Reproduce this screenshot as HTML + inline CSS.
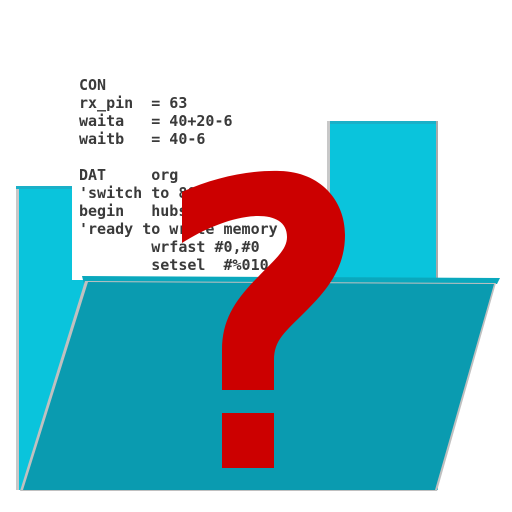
<!DOCTYPE html>
<html><head><style>
body{margin:0;width:512px;height:512px;background:#fff;overflow:hidden;position:relative}
pre{position:absolute;left:79px;top:76px;margin:0;font-family:"DejaVu Sans Mono","Liberation Mono",monospace;font-weight:bold;font-size:15px;line-height:18px;color:#3a3a3a}
svg{position:absolute;left:0;top:0}
</style></head><body>
<svg width="512" height="512">
<rect x="16" y="186" width="422" height="304" fill="#0ac4dc"/>
<rect x="16" y="186" width="3" height="304" fill="#c8c8c8"/>
<rect x="327" y="121" width="111" height="160" fill="#0ac4dc"/>
<rect x="327" y="121" width="111" height="3" fill="#1ab0c8"/>
<rect x="327" y="121" width="3" height="160" fill="#c8c8c8"/>
<rect x="436" y="121" width="2" height="160" fill="#aaa"/>
<rect x="16" y="186" width="57" height="3" fill="#1ab0c8"/>
<rect x="72" y="60" width="255" height="220" fill="#fff"/>
</svg>
<pre>CON
rx_pin  = 63
waita   = 40+20-6
waitb   = 40-6

DAT     org
'switch to 80MHz
begin   hubset
'ready to write memory
        wrfast #0,#0
        setsel  #%010_0</pre>
<svg width="512" height="512">
<polygon points="82,276 500,278 497,284 84,284" fill="#0aa8bd"/>
<polygon points="85,281 496,283 437,491 20,491" fill="#c0c0c0"/>
<polygon points="88,282 494,284 435,490 23,490" fill="#0a9bb0"/>
<path d="M182,192 C215,177 250,170 280,171 C320,172 345,200 345,235 C345,270 325,292 305,312 C285,332 274,340 274,360 L274,390 L222,390 L222,350 C222,320 235,300 258,277 C275,259 287,250 287,237 C287,222 275,216 258,216 C235,216 205,228 182,243 Z" fill="#cc0000"/>
<rect x="222" y="413" width="52" height="55" fill="#cc0000"/>
</svg>
</body></html>
